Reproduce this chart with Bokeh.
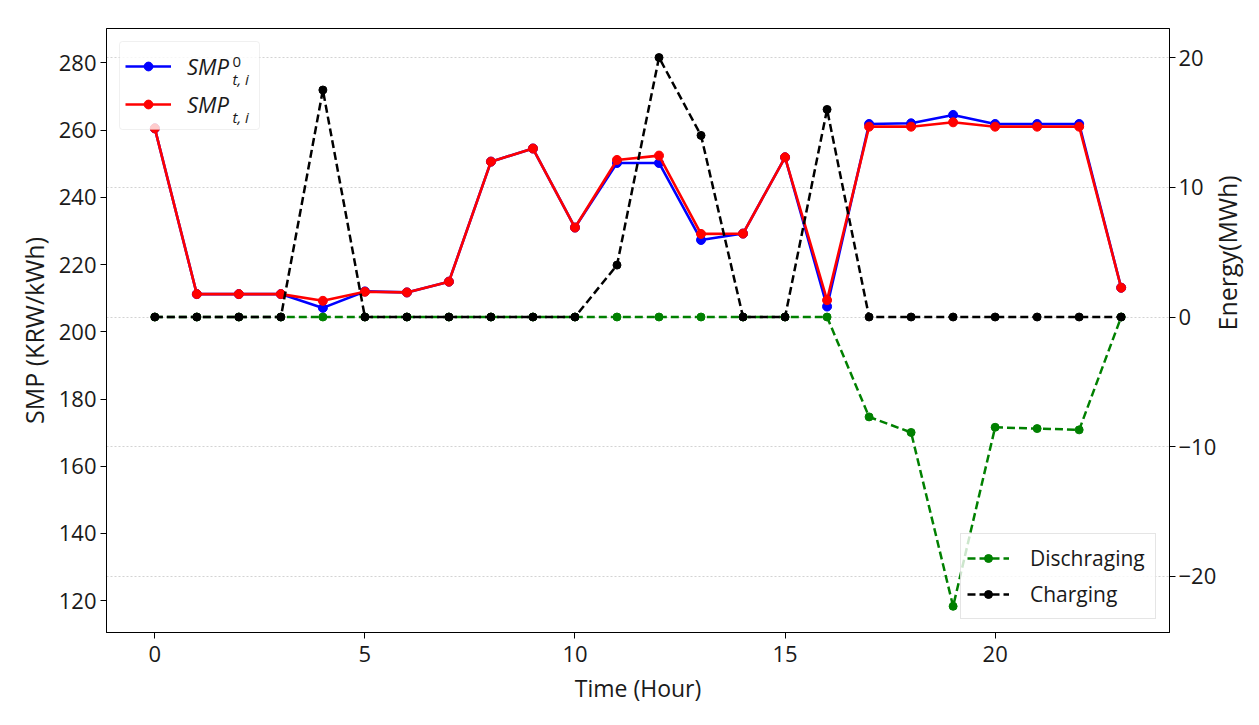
import math
from bokeh.plotting import figure
from bokeh.models import Range1d, LinearAxis, Legend, LegendItem, Label, FixedTicker, BoxAnnotation
from bokeh.embed import file_html
from bokeh.resources import INLINE

hours = list(range(24))
smp0 = [260.5, 211.2, 211.2, 211.2, 207.1, 212.0, 211.7, 214.9, 250.6, 254.5, 231.0, 250.2,
        250.2, 227.3, 229.2, 251.9, 207.5, 261.8, 262.0, 264.5, 261.8, 261.8, 261.8, 213.1]
smp = [260.5, 211.2, 211.2, 211.2, 209.2, 211.9, 211.7, 214.9, 250.6, 254.5, 231.0, 251.1,
       252.4, 229.1, 229.2, 251.9, 209.4, 261.0, 261.0, 262.3, 261.0, 261.0, 261.0, 213.1]
discharging = [0, 0, 0, 0, 0, 0, 0, 0, 0, 0, 0, 0, 0, 0, 0, 0, 0,
               -7.7, -8.9, -22.3, -8.5, -8.6, -8.7, 0]
charging = [0, 0, 0, 0, 17.5, 0, 0, 0, 0, 0, 0, 4.0, 20.0, 14.0, 0, 0, 16.0,
            0, 0, 0, 0, 0, 0, 0]
x_ticks = [0, 5, 10, 15, 20]
smp_ticks = [120, 140, 160, 180, 200, 220, 240, 260, 280]
energy_ticks = [-20, -10, 0, 10, 20]

FONT = "Open Sans"
TXT = "#1a1a1a"

p = figure(frame_width=1063, frame_height=604,
           x_range=Range1d(-1.15, 24.15), y_range=Range1d(-24.32, 22.24),
           y_axis_location="right", output_backend="svg", toolbar_location=None,
           min_border_left=106, min_border_top=28, min_border_right=5, min_border_bottom=5)
p.extra_y_ranges = {"smp": Range1d(110.55, 290.2)}
right_axis = p.right[0]
left_axis = LinearAxis(y_range_name="smp", ticker=FixedTicker(ticks=smp_ticks),
                       axis_label="SMP (KRW/kWh)")
p.add_layout(left_axis, "left")

p.xaxis.ticker = FixedTicker(ticks=x_ticks)
right_axis.ticker = FixedTicker(ticks=energy_ticks)
p.xaxis.axis_label = "Time (Hour)"
right_axis.axis_label = "Energy(MWh)"
right_axis.axis_label_orientation = math.pi / 2

for ax in [p.xaxis[0], right_axis, left_axis]:
    ax.major_label_text_font = FONT
    ax.major_label_text_font_size = "22px"
    ax.major_label_text_color = TXT
    ax.axis_label_text_font = FONT
    ax.axis_label_text_font_size = "25px"
    ax.axis_label_text_font_style = "normal"
    ax.axis_label_text_color = TXT
    ax.minor_tick_line_color = None
    ax.major_tick_out = 6
    ax.major_tick_in = 0
    ax.axis_line_color = "black"
    ax.major_tick_line_color = "black"
p.xaxis.axis_label_text_font_size = "23px"
left_axis.major_label_standoff = 4
left_axis.axis_label_standoff = 5
right_axis.major_label_standoff = 3
right_axis.axis_label_standoff = 8
p.xaxis.major_label_standoff = 7
p.xaxis.axis_label_standoff = 7

p.xgrid.visible = False
p.ygrid.grid_line_color = "#c8c8c8"
p.ygrid.grid_line_dash = "2 2"
p.ygrid.grid_line_width = 0.8
p.outline_line_color = "black"
p.outline_line_width = 1
p.outline_line_alpha = 1
p.background_fill_color = "white"
p.border_fill_color = "white"

b = p.line(hours, smp0, line_color="#0000ff", line_width=2.6, y_range_name="smp")
bs = p.scatter(hours, smp0, color="#0000ff", size=9, y_range_name="smp")
r = p.line(hours, smp, line_color="#ff0000", line_width=2.6, y_range_name="smp")
rs = p.scatter(hours, smp, color="#ff0000", size=9, y_range_name="smp")
g = p.line(hours, discharging, line_color="#008000", line_width=2.5, line_dash="8 4")
gs = p.scatter(hours, discharging, color="#008000", size=8)
k = p.line(hours, charging, line_color="black", line_width=2.5, line_dash="8 4")
ks = p.scatter(hours, charging, color="black", size=8)

# legend 1 frame (drawn as a box so that the sub/superscript labels stay on top)
p.add_layout(BoxAnnotation(left=13, right=153, top=591, bottom=503,
                           left_units="screen", right_units="screen",
                           top_units="screen", bottom_units="screen",
                           fill_color="white", fill_alpha=0.8,
                           line_color="#cccccc", line_width=1, border_radius=3))

leg1 = Legend(items=[LegendItem(label="SMP", renderers=[b, bs]),
                     LegendItem(label="SMP", renderers=[r, rs])],
              location="top_left", glyph_width=46, glyph_height=22, label_height=38,
              label_width=64, label_standoff=16, label_text_font_size="22px",
              label_text_font_style="italic", spacing=0, margin=13, padding=6,
              background_fill_alpha=0, border_line_alpha=0,
              label_text_font=FONT, label_text_color=TXT)
leg2 = Legend(items=[LegendItem(label="Dischraging", renderers=[g, gs]),
                     LegendItem(label="Charging", renderers=[k, ks])],
              location="bottom_right", glyph_width=42, glyph_height=20, label_height=36,
              label_width=119, label_standoff=21, label_text_font_size="21px",
              spacing=0, margin=13, padding=6, border_line_color="#cccccc",
              border_line_width=1, background_fill_alpha=0.8, background_fill_color="white",
              label_text_font=FONT, label_text_color=TXT)
p.add_layout(leg1)
p.add_layout(leg2)

sub_style = dict(x_units="screen", y_units="screen", text_font=FONT, text_color=TXT,
                 text_baseline="middle", text_align="left")
p.add_layout(Label(x=126, y=571, text="0", text_font_size="15px", **sub_style))
p.add_layout(Label(x=126, y=554, text="t, i", text_font_size="15px",
                   text_font_style="italic", **sub_style))
p.add_layout(Label(x=126, y=516, text="t, i", text_font_size="15px",
                   text_font_style="italic", **sub_style))

open("out.html", "w").write(file_html(p, INLINE))
